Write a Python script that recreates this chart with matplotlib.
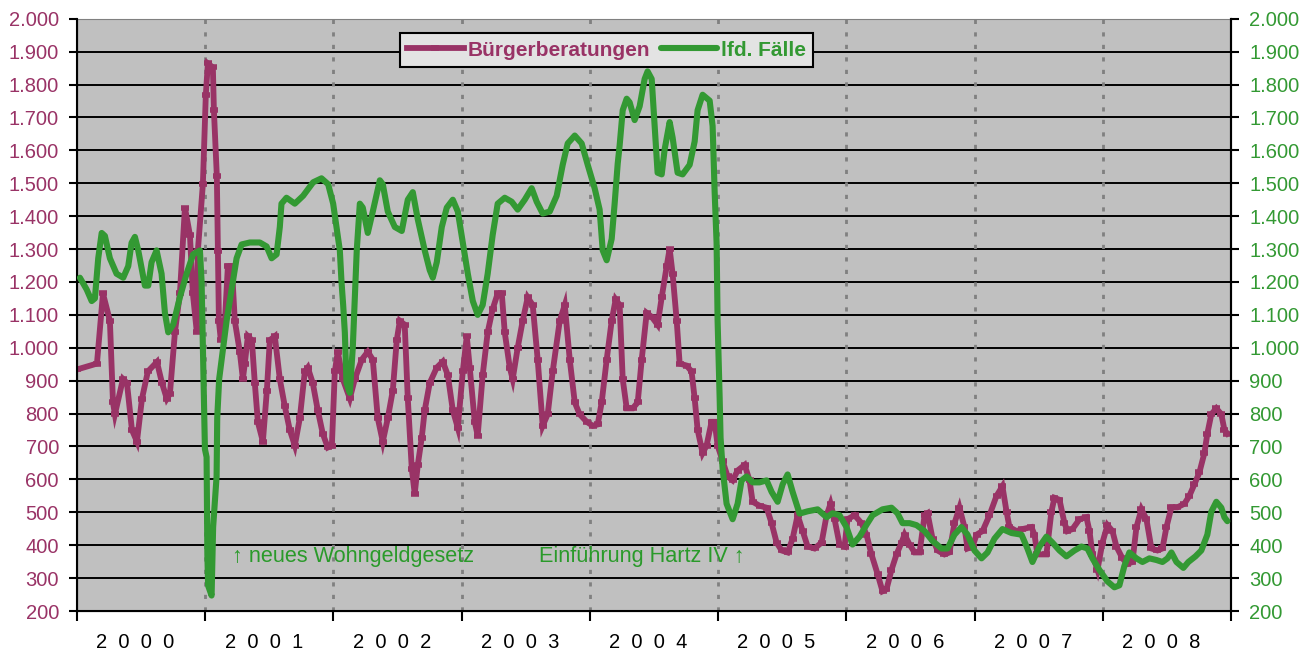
import matplotlib
matplotlib.use("Agg")
import matplotlib.pyplot as plt
from matplotlib.ticker import FuncFormatter, FixedLocator

# Bürgerberatungen (Zeitpunkt in Jahren, Anzahl)
jahr_b = [2000.000, 2000.156, 2000.203, 2000.257, 2000.281, 2000.296, 2000.359, 2000.390,
          2000.429, 2000.468, 2000.507, 2000.553, 2000.624, 2000.663, 2000.701, 2000.725,
          2000.764, 2000.803, 2000.842, 2000.881, 2000.904, 2000.935, 2000.943, 2000.982,
          2001.005, 2001.021, 2001.060, 2001.068, 2001.091, 2001.099, 2001.107, 2001.122,
          2001.154, 2001.177, 2001.208, 2001.231, 2001.270, 2001.294, 2001.309, 2001.333,
          2001.364, 2001.387, 2001.411, 2001.450, 2001.481, 2001.504, 2001.543, 2001.582,
          2001.621, 2001.660, 2001.699, 2001.738, 2001.777, 2001.800, 2001.839, 2001.878,
          2001.917, 2001.956, 2001.988, 2002.011, 2002.034, 2002.073, 2002.128, 2002.167,
          2002.221, 2002.268, 2002.307, 2002.346, 2002.385, 2002.424, 2002.463, 2002.494,
          2002.518, 2002.556, 2002.580, 2002.611, 2002.634, 2002.658, 2002.689, 2002.712,
          2002.751, 2002.806, 2002.853, 2002.892, 2002.931, 2002.970, 2003.009, 2003.040,
          2003.063, 2003.102, 2003.125, 2003.164, 2003.203, 2003.242, 2003.281, 2003.313,
          2003.336, 2003.375, 2003.398, 2003.437, 2003.476, 2003.515, 2003.554, 2003.593,
          2003.632, 2003.671, 2003.710, 2003.765, 2003.804, 2003.843, 2003.882, 2003.920,
          2003.975, 2004.022, 2004.061, 2004.092, 2004.131, 2004.170, 2004.201, 2004.232,
          2004.256, 2004.287, 2004.334, 2004.373, 2004.404, 2004.443, 2004.482, 2004.528,
          2004.560, 2004.599, 2004.622, 2004.645, 2004.677, 2004.700, 2004.754, 2004.793,
          2004.817, 2004.840, 2004.879, 2004.910, 2004.949, 2004.973, 2004.996, 2005.035,
          2005.074, 2005.113, 2005.152, 2005.207, 2005.245, 2005.269, 2005.323, 2005.378,
          2005.417, 2005.456, 2005.495, 2005.542, 2005.581, 2005.620, 2005.659, 2005.698,
          2005.752, 2005.807, 2005.846, 2005.877, 2005.908, 2005.947, 2005.986, 2006.009,
          2006.064, 2006.118, 2006.157, 2006.196, 2006.243, 2006.282, 2006.313, 2006.352,
          2006.391, 2006.430, 2006.454, 2006.493, 2006.532, 2006.571, 2006.610, 2006.633,
          2006.672, 2006.711, 2006.765, 2006.804, 2006.843, 2006.882, 2006.921, 2006.945,
          2006.984, 2007.015, 2007.062, 2007.116, 2007.171, 2007.217, 2007.249, 2007.272,
          2007.327, 2007.373, 2007.443, 2007.467, 2007.490, 2007.560, 2007.599, 2007.623,
          2007.662, 2007.701, 2007.724, 2007.763, 2007.818, 2007.872, 2007.896, 2007.919,
          2007.958, 2007.997, 2008.036, 2008.075, 2008.106, 2008.153, 2008.192, 2008.231,
          2008.262, 2008.301, 2008.340, 2008.379, 2008.426, 2008.465, 2008.496, 2008.535,
          2008.581, 2008.636, 2008.675, 2008.714, 2008.753, 2008.792, 2008.815, 2008.846,
          2008.885, 2008.924, 2008.948, 2008.971]
beratungen = [934, 952, 1165, 1082, 834, 798, 905, 893,
              750, 715, 845, 928, 957, 893, 845, 860,
              1047, 1165, 1426, 1343, 1165, 1047, 1295, 1497,
              1769, 1864, 1852, 1722, 1521, 1295, 1082, 1023,
              1082, 1248, 1248, 1082, 988, 905, 952, 1035,
              1023, 893, 774, 715, 870, 1023, 1035, 905,
              822, 750, 703, 786, 928, 940, 893, 810,
              739, 697, 703, 928, 988, 905, 846, 905,
              964, 988, 964, 786, 715, 786, 870, 1023,
              1082, 1070, 846, 633, 556, 644, 727, 810,
              893, 940, 958, 917, 810, 757, 928, 1035,
              940, 775, 733, 917, 1047, 1118, 1165, 1165,
              1047, 940, 905, 1000, 1082, 1153, 1130, 964,
              763, 798, 928, 1082, 1130, 964, 834, 798,
              775, 763, 767, 834, 964, 1082, 1147, 1130,
              905, 816, 816, 834, 964, 1106, 1094, 1070,
              1153, 1248, 1301, 1225, 1082, 952, 946, 928,
              846, 751, 680, 703, 775, 775, 703, 656,
              609, 597, 627, 644, 597, 532, 520, 514,
              467, 408, 384, 378, 420, 491, 443, 396,
              390, 408, 491, 526, 479, 402, 396, 479,
              491, 467, 432, 372, 313, 260, 266, 325,
              372, 408, 432, 402, 378, 378, 491, 497,
              420, 384, 372, 378, 467, 514, 455, 390,
              396, 432, 443, 491, 550, 579, 502, 455,
              443, 449, 455, 432, 372, 372, 502, 544,
              538, 467, 443, 449, 479, 485, 443, 372,
              325, 408, 461, 443, 396, 360, 343, 349,
              455, 509, 479, 390, 384, 390, 455, 515,
              515, 526, 550, 585, 621, 680, 739, 798,
              816, 798, 751, 739]

# lfd. Fälle
jahr_f = [2000.023, 2000.076, 2000.115, 2000.140, 2000.166, 2000.193, 2000.218, 2000.257,
          2000.309, 2000.361, 2000.400, 2000.426, 2000.452, 2000.478, 2000.530, 2000.556,
          2000.582, 2000.621, 2000.660, 2000.686, 2000.712, 2000.751, 2000.803, 2000.855,
          2000.906, 2000.959, 2000.972, 2000.984, 2000.998, 2001.011, 2001.017, 2001.023,
          2001.050, 2001.062, 2001.089, 2001.094, 2001.109, 2001.136, 2001.167, 2001.206,
          2001.245, 2001.284, 2001.348, 2001.426, 2001.479, 2001.518, 2001.557, 2001.582,
          2001.595, 2001.634, 2001.699, 2001.764, 2001.842, 2001.907, 2001.959, 2001.998,
          2002.024, 2002.050, 2002.063, 2002.076, 2002.089, 2002.102, 2002.128, 2002.151,
          2002.182, 2002.206, 2002.229, 2002.268, 2002.307, 2002.362, 2002.385, 2002.424,
          2002.479, 2002.533, 2002.580, 2002.619, 2002.658, 2002.712, 2002.751, 2002.775,
          2002.806, 2002.845, 2002.884, 2002.931, 2002.970, 2003.009, 2003.048, 2003.087,
          2003.125, 2003.164, 2003.203, 2003.242, 2003.281, 2003.336, 2003.390, 2003.437,
          2003.492, 2003.546, 2003.585, 2003.632, 2003.687, 2003.741, 2003.788, 2003.827,
          2003.882, 2003.936, 2003.983, 2004.037, 2004.076, 2004.100, 2004.131, 2004.170,
          2004.193, 2004.217, 2004.232, 2004.256, 2004.287, 2004.310, 2004.349, 2004.388,
          2004.427, 2004.450, 2004.482, 2004.505, 2004.528, 2004.560, 2004.583, 2004.622,
          2004.645, 2004.684, 2004.723, 2004.778, 2004.817, 2004.840, 2004.879, 2004.934,
          2004.957, 2004.973, 2004.988, 2004.996, 2005.012, 2005.019, 2005.035, 2005.066,
          2005.113, 2005.152, 2005.183, 2005.222, 2005.269, 2005.323, 2005.378, 2005.417,
          2005.464, 2005.503, 2005.542, 2005.581, 2005.635, 2005.698, 2005.776, 2005.846,
          2005.892, 2005.947, 2006.001, 2006.048, 2006.103, 2006.157, 2006.204, 2006.282,
          2006.352, 2006.399, 2006.438, 2006.493, 2006.547, 2006.610, 2006.672, 2006.742,
          2006.789, 2006.843, 2006.897, 2006.945, 2006.999, 2007.054, 2007.101, 2007.155,
          2007.217, 2007.288, 2007.366, 2007.412, 2007.451, 2007.506, 2007.560, 2007.607,
          2007.662, 2007.716, 2007.779, 2007.833, 2007.880, 2007.919, 2007.973, 2008.036,
          2008.090, 2008.129, 2008.168, 2008.207, 2008.262, 2008.309, 2008.363, 2008.418,
          2008.465, 2008.504, 2008.535, 2008.574, 2008.628, 2008.667, 2008.722, 2008.768,
          2008.815, 2008.846, 2008.885, 2008.924, 2008.948, 2008.971]
faelle = [1213, 1177, 1142, 1150, 1272, 1349, 1340, 1272,
          1225, 1213, 1248, 1319, 1337, 1296, 1189, 1189,
          1260, 1296, 1225, 1106, 1047, 1071, 1154, 1225,
          1284, 1296, 1201, 964, 692, 668, 372, 277,
          247, 455, 609, 787, 905, 988, 1082, 1177,
          1272, 1314, 1320, 1320, 1308, 1272, 1284, 1367,
          1438, 1456, 1438, 1462, 1503, 1515, 1497, 1438,
          1367, 1296, 1201, 1130, 1047, 893, 863, 1000,
          1296, 1438, 1426, 1349, 1414, 1509, 1497, 1414,
          1367, 1355, 1450, 1473, 1390, 1296, 1236, 1213,
          1260, 1367, 1426, 1450, 1414, 1319, 1225, 1142,
          1100, 1130, 1225, 1343, 1438, 1456, 1444, 1420,
          1450, 1485, 1444, 1408, 1414, 1462, 1556, 1621,
          1645, 1621, 1556, 1485, 1420, 1296, 1266, 1331,
          1438, 1560, 1615, 1722, 1757, 1746, 1692, 1734,
          1817, 1840, 1817, 1674, 1532, 1527, 1603, 1686,
          1639, 1532, 1527, 1556, 1627, 1722, 1769, 1751,
          1674, 1473, 1319, 1082, 846, 727, 633, 526,
          479, 526, 597, 609, 591, 591, 597, 562,
          532, 585, 615, 562, 496, 503, 509, 485,
          497, 491, 455, 402, 426, 462, 491, 509,
          514, 497, 467, 467, 461, 443, 413, 390,
          390, 432, 455, 432, 384, 360, 378, 420,
          449, 437, 432, 390, 349, 396, 426, 408,
          384, 366, 384, 396, 390, 360, 325, 290,
          272, 278, 337, 378, 360, 349, 360, 355,
          349, 360, 378, 349, 331, 349, 366, 384,
          432, 502, 532, 514, 485, 473]

jahre = [2000, 2001, 2002, 2003, 2004, 2005, 2006, 2007, 2008]

lila = '#993366'
gruen = '#339933'

plt.rcParams['font.family'] = ['Liberation Sans', 'DejaVu Sans']

fig = plt.figure(figsize=(13.13, 6.53), dpi=100)
ax = fig.add_axes([0.0586, 0.0643, 0.879, 0.907])
ax.set_facecolor('#c0c0c0')

ax.set_xlim(2000, 2009)
ax.set_ylim(200, 2000)
yticks = list(range(200, 2001, 100))
fmt = FuncFormatter(lambda v, p: f"{int(v):,}".replace(",", "."))

# Gitter
for v in yticks[1:-1]:
    ax.axhline(v, color='black', lw=1.4, zorder=1)
for j in jahre[1:]:
    ax.axvline(j, color='#808080', lw=2, ls=(0, (1.5, 3)), zorder=1)

l1, = ax.plot(jahr_b, beratungen, color=lila, lw=4.2, marker='_', ms=6, mew=4,
              solid_joinstyle='miter', zorder=3, label='Bürgerberatungen')

ax.set_yticks(yticks)
ax.yaxis.set_major_formatter(fmt)
ax.tick_params(axis='y', colors='black', labelcolor=lila, labelsize=14.5,
               length=6, width=1.5, pad=7)

# Jahresbeschriftung gesperrt, wie im Original leicht nach links versetzt
ax.xaxis.set_major_locator(FixedLocator(jahre + [2009]))
ax.xaxis.set_minor_locator(FixedLocator([j + 0.5 for j in jahre]))
ax.xaxis.set_major_formatter(FuncFormatter(lambda v, p: ''))
ax.xaxis.set_minor_formatter(FuncFormatter(lambda v, p: '  '.join(str(int(v))) + '  '))
ax.tick_params(axis='x', which='major', length=7, width=1.5, direction='out')
ax.tick_params(axis='x', which='minor', length=0, labelsize=14.5, pad=16)

for s in ['left', 'bottom', 'right']:
    ax.spines[s].set_linewidth(1.5)
ax.spines['top'].set_color('#808080')

ax2 = ax.twinx()
ax2.set_ylim(200, 2000)
l2, = ax2.plot(jahr_f, faelle, color=gruen, lw=4.4, solid_capstyle='round',
               solid_joinstyle='round', zorder=4, label='lfd. Fälle')
ax2.set_yticks(yticks)
ax2.yaxis.set_major_formatter(fmt)
ax2.tick_params(axis='y', colors='black', labelcolor=gruen, labelsize=14.5,
                length=6, width=1.5, pad=7)
ax2.spines['right'].set_linewidth(1.5)
ax2.spines['top'].set_visible(False)

ax2.text(2001.21, 367, '\u2191 neues Wohngeldgesetz', color='#2a9a2a', fontsize=15.6,
         ha='left', va='center', zorder=5)
ax2.text(2005.21, 367, 'Einführung Hartz IV \u2191', color='#2a9a2a', fontsize=15.6,
         ha='right', va='center', zorder=5)

leg = ax2.legend(handles=[l1, l2], loc='upper center', bbox_to_anchor=(0.459, 0.993),
                 ncol=2, frameon=True, fancybox=False, facecolor='#e3e3e3',
                 edgecolor='black', framealpha=1, handlelength=2.7, handletextpad=0.2,
                 columnspacing=0.5, borderpad=0.35,
                 prop={'weight': 'bold', 'size': 15})
leg.get_frame().set_linewidth(1.5)
leg.get_texts()[0].set_color(lila)
leg.get_texts()[1].set_color(gruen)

fig.savefig('out.png', dpi=100)
